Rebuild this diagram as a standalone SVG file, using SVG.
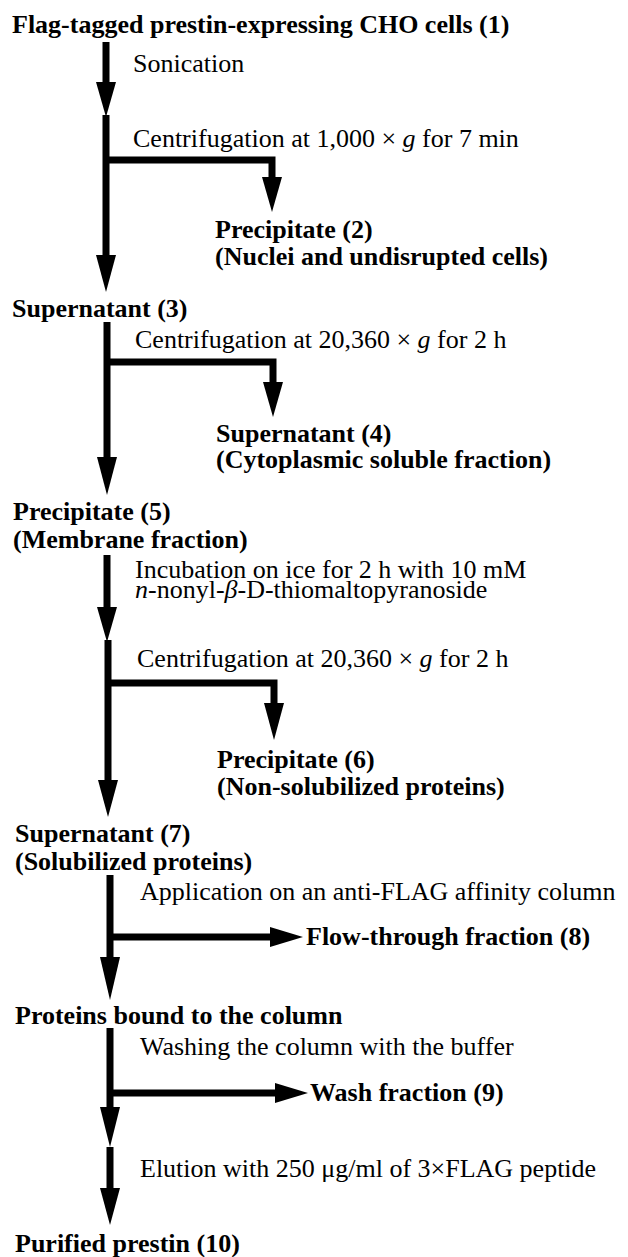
<svg xmlns="http://www.w3.org/2000/svg" width="628" height="1257" viewBox="0 0 628 1257">
<style>
.b{font-family:"Liberation Serif","Times New Roman",serif;font-weight:bold;font-size:26px;fill:#000}
.r{font-family:"Liberation Serif","Times New Roman",serif;font-size:26px;fill:#000}
.i{font-style:italic}
.ln{stroke:#000;stroke-width:7;fill:none}
.hd{fill:#000}
</style>
<rect width="628" height="1257" fill="#fff"/>
<g id="connectors">
<line class="ln" x1="106" y1="42" x2="106" y2="86"/>
<polygon class="hd" points="96,82 116,82 106,117"/>
<path class="ln" d="M106,115 V258 M106,160 H272 V180"/>
<polygon class="hd" points="262,177 282,177 272,212"/>
<polygon class="hd" points="96,255 116,255 106,292"/>
<path class="ln" d="M107,322 V460 M107,362 H273 V385"/>
<polygon class="hd" points="263,382 283,382 273,417"/>
<polygon class="hd" points="97,457 117,457 107,495"/>
<line class="ln" x1="107" y1="555" x2="107" y2="610"/>
<polygon class="hd" points="97,607 117,607 107,642"/>
<path class="ln" d="M108,640 V783 M108,683 H274 V706"/>
<polygon class="hd" points="264,703 284,703 274,740"/>
<polygon class="hd" points="98,780 118,780 108,817"/>
<path class="ln" d="M110,875 V960 M110,937 H273"/>
<polygon class="hd" points="270,927 270,947 303,937"/>
<polygon class="hd" points="100,957 120,957 110,1000"/>
<path class="ln" d="M110,1028 V1110 M110,1093 H278"/>
<polygon class="hd" points="275,1083 275,1103 308,1093"/>
<polygon class="hd" points="100,1107 120,1107 110,1147"/>
<line class="ln" x1="110" y1="1147" x2="110" y2="1191"/>
<polygon class="hd" points="100,1188 120,1188 110,1225"/>
</g>
<g id="n1"><text class="b" x="12" y="33">Flag-tagged prestin-expressing CHO cells (1)</text></g>
<g id="s1"><text class="r" x="133" y="72">Sonication</text></g>
<g id="s2"><text class="r" x="133" y="147">Centrifugation at 1,000 × <tspan class="i">g</tspan> for 7 min</text></g>
<g id="n2"><text class="b" x="215" y="238">Precipitate (2)</text><text class="b" x="215" y="265">(Nuclei and undisrupted cells)</text></g>
<g id="n3"><text class="b" x="12" y="317">Supernatant (3)</text></g>
<g id="s3"><text class="r" x="135" y="348">Centrifugation at 20,360 × <tspan class="i">g</tspan> for 2 h</text></g>
<g id="n4"><text class="b" x="216" y="442">Supernatant (4)</text><text class="b" x="216" y="468">(Cytoplasmic soluble fraction)</text></g>
<g id="n5"><text class="b" x="13" y="520">Precipitate (5)</text><text class="b" x="13" y="548">(Membrane fraction)</text></g>
<g id="s4"><text class="r" x="135" y="578">Incubation on ice for 2 h with 10 mM</text><text class="r" x="135" y="598"><tspan class="i">n</tspan>-nonyl-<tspan class="i">β</tspan>-D-thiomaltopyranoside</text></g>
<g id="s5"><text class="r" x="137" y="667">Centrifugation at 20,360 × <tspan class="i">g</tspan> for 2 h</text></g>
<g id="n6"><text class="b" x="217" y="768">Precipitate (6)</text><text class="b" x="217" y="795">(Non-solubilized proteins)</text></g>
<g id="n7"><text class="b" x="15" y="842">Supernatant (7)</text><text class="b" x="15" y="870">(Solubilized proteins)</text></g>
<g id="s6"><text class="r" x="140" y="900">Application on an anti-FLAG affinity column</text></g>
<g id="n8"><text class="b" x="306" y="945">Flow-through fraction (8)</text></g>
<g id="n9"><text class="b" x="15" y="1024">Proteins bound to the column</text></g>
<g id="s7"><text class="r" x="140" y="1055">Washing the column with the buffer</text></g>
<g id="n10"><text class="b" x="310" y="1101">Wash fraction (9)</text></g>
<g id="s8"><text class="r" x="140" y="1177">Elution with 250 μg/ml of 3×FLAG peptide</text></g>
<g id="n11"><text class="b" x="15" y="1252">Purified prestin (10)</text></g>
</svg>
